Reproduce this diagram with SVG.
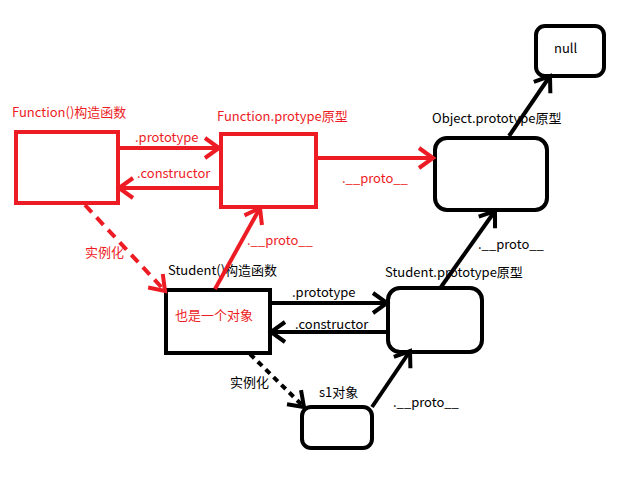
<svg xmlns="http://www.w3.org/2000/svg" width="637" height="480" viewBox="0 0 637 480">
<style>
text{font-family:"Noto Sans CJK SC","DejaVu Sans",sans-serif;font-size:13px}
.r{fill:#ed1c24}
.k{fill:#000}
.rb{fill:#fff;stroke:#ed1c24;stroke-width:4}
.kb{fill:#fff;stroke:#000;stroke-width:4}
.rl{fill:none;stroke:#ed1c24;stroke-width:4}
.kl{fill:none;stroke:#000;stroke-width:4}
.rd{fill:none;stroke:#ed1c24;stroke-width:4;stroke-dasharray:10 7}
.kd{fill:none;stroke:#000;stroke-width:4;stroke-dasharray:6 5}
</style>
<defs>
<marker id="ar" markerUnits="userSpaceOnUse" markerWidth="30" markerHeight="30" refX="0" refY="0" orient="auto" viewBox="-20 -15 30 30" overflow="visible">
<path d="M-14 -10 L0 0 L-14 10" fill="none" stroke="#ed1c24" stroke-width="4"/>
</marker>
<marker id="ak" markerUnits="userSpaceOnUse" markerWidth="30" markerHeight="30" refX="0" refY="0" orient="auto" viewBox="-20 -15 30 30" overflow="visible">
<path d="M-14 -10 L0 0 L-14 10" fill="none" stroke="#000" stroke-width="4"/>
</marker>
</defs>
<g id="function-ctor">
<rect class="rb" x="16" y="132" width="102" height="71"/>
<text class="r" x="12" y="117">Function()构造函数</text>
</g>
<g id="function-proto">
<rect class="rb" x="221" y="134" width="95" height="73"/>
<text class="r" x="217" y="121">Function.protype原型</text>
</g>
<g id="object-proto">
<rect class="kb" x="435" y="138" width="112" height="72" rx="12"/>
<text class="k" x="432" y="123">Object.prototype原型</text>
</g>
<g id="null">
<rect class="kb" x="536" y="26" width="68" height="50" rx="9"/>
<text class="k" x="554" y="53">null</text>
</g>
<g id="student-ctor">
<rect class="kb" x="166" y="290" width="104" height="63"/>
<text class="k" x="168" y="275">Student()构造函数</text>
<text class="r" x="175" y="320">也是一个对象</text>
</g>
<g id="student-proto">
<rect class="kb" x="388" y="288" width="94" height="64" rx="12"/>
<text class="k" x="385" y="277">Student.prototype原型</text>
</g>
<g id="s1">
<rect class="kb" x="302" y="407" width="70" height="41" rx="9"/>
<text class="k" x="319" y="397">s1对象</text>
</g>
<g id="connectors">
<line class="rl" x1="118" y1="148" x2="219" y2="148" marker-end="url(#ar)"/>
<line class="rl" x1="220" y1="188" x2="119" y2="188" marker-end="url(#ar)"/>
<line class="rl" x1="316" y1="158" x2="433" y2="158" marker-end="url(#ar)"/>
<line class="rd" x1="85" y1="205" x2="165" y2="291" marker-end="url(#ar)"/>
<line class="rl" x1="215" y1="289" x2="260" y2="208" marker-end="url(#ar)"/>
<line class="kl" x1="509" y1="136" x2="550" y2="76" marker-end="url(#ak)"/>
<line class="kl" x1="270" y1="303" x2="387" y2="303" marker-end="url(#ak)"/>
<line class="kl" x1="388" y1="332" x2="271" y2="332" marker-end="url(#ak)"/>
<line class="kl" x1="441" y1="287" x2="495" y2="211" marker-end="url(#ak)"/>
<line class="kd" x1="250" y1="354" x2="304" y2="407" marker-end="url(#ak)"/>
<line class="kl" x1="372" y1="407" x2="410" y2="351" marker-end="url(#ak)"/>
<text class="r" x="135" y="142">.prototype</text>
<text class="r" x="137" y="178">.constructor</text>
<text class="r" x="342" y="183">.__proto__</text>
<text class="r" x="85" y="257">实例化</text>
<text class="r" x="247" y="245">.__proto__</text>
<text class="k" x="292" y="297">.prototype</text>
<text class="k" x="295" y="329">.constructor</text>
<text class="k" x="478" y="249">.__proto__</text>
<text class="k" x="230" y="387">实例化</text>
<text class="k" x="393" y="407">.__proto__</text>
</g>
</svg>
